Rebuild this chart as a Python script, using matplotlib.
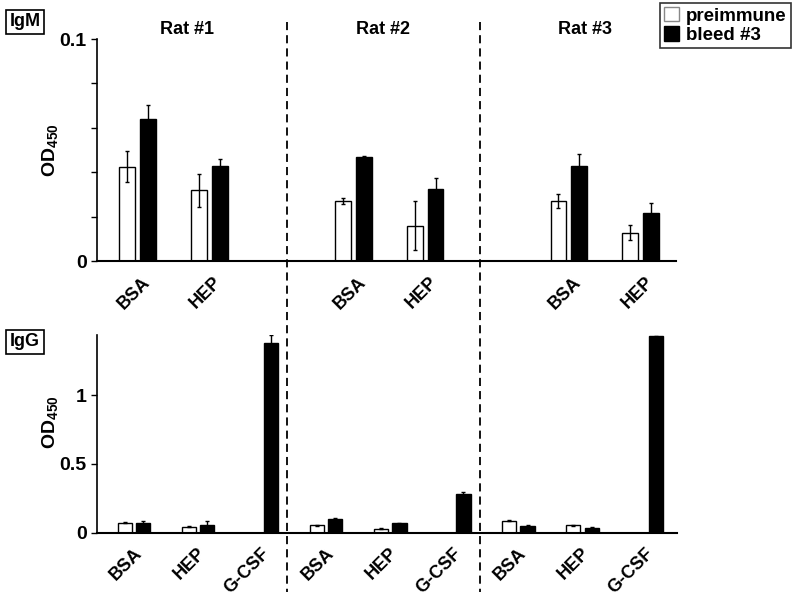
import numpy as np
import matplotlib
matplotlib.use("Agg")
import matplotlib.pyplot as plt
from matplotlib.lines import Line2D
from matplotlib.patches import Patch
from matplotlib.transforms import ScaledTranslation

plt.rcParams['font.family'] = ['Liberation Sans', 'DejaVu Sans']
plt.rcParams['font.weight'] = 'bold'
plt.rcParams['mathtext.fontset'] = 'custom'
plt.rcParams['mathtext.rm'] = 'Liberation Sans:bold'
plt.rcParams['mathtext.bf'] = 'Liberation Sans:bold'
plt.rcParams['mathtext.default'] = 'rm'

rats = ['Rat #1', 'Rat #2', 'Rat #3']
antigens = ['BSA', 'HEP', 'G-CSF']

# IgM (no G-CSF measured), order: rat1 BSA, HEP, rat2 BSA, HEP, rat3 BSA, HEP
igm_pre = [0.0425, 0.0318, 0.0269, 0.0159, 0.0270, 0.0128]
igm_pre_err = [0.0070, 0.0075, 0.0014, 0.0110, 0.0030, 0.0035]
igm_bleed = [0.0638, 0.0430, 0.0468, 0.0326, 0.0430, 0.0215]
igm_bleed_err = [0.0063, 0.0029, 0.0005, 0.0050, 0.0053, 0.0045]

# IgG, order: rat1 BSA, HEP, G-CSF, rat2 ..., rat3 ...
igg_pre = [0.073, 0.044, 0.0, 0.053, 0.029, 0.0, 0.087, 0.053, 0.0]
igg_pre_err = [0.005, 0.006, 0.0, 0.003, 0.005, 0.0, 0.004, 0.004, 0.0]
igg_bleed = [0.070, 0.058, 1.380, 0.100, 0.068, 0.279, 0.049, 0.037, 1.428]
igg_bleed_err = [0.012, 0.028, 0.056, 0.006, 0.005, 0.014, 0.004, 0.006, 0.004]

W = 0.22
OFF = 0.145

fig = plt.figure(figsize=(7.94, 5.98), dpi=100)
ax1 = fig.add_axes([0.1222, 0.5635, 0.7292, 0.3712])
ax2 = fig.add_axes([0.1222, 0.1092, 0.7305, 0.3306])

def style(ax):
    for s in ['top', 'right']:
        ax.spines[s].set_visible(False)
    ax.spines['left'].set_linewidth(1.2)
    ax.spines['bottom'].set_linewidth(1.5)
    ax.tick_params(axis='x', length=0)
    ax.tick_params(axis='y', direction='out', length=4, width=1, labelsize=14)

ekw = dict(ecolor='black', elinewidth=1, capsize=1.5, capthick=1)

# top panel: slots 0,1 / 3,4 / 6,7
x1 = np.array([0, 1, 3, 4, 6, 7])
ax1.bar(x1 - OFF, igm_pre, W, yerr=igm_pre_err, color='white', edgecolor='black',
        linewidth=1, error_kw=ekw)
ax1.bar(x1 + OFF, igm_bleed, W, yerr=igm_bleed_err, color='black', edgecolor='black',
        linewidth=1, error_kw=ekw)
ax1.set_xlim(-0.563, 7.49)
ax1.set_ylim(0, 0.1)
ax1.set_yticks([0, 0.1])
ax1.set_yticklabels(['0', '0.1'])
ax1.set_yticks(np.arange(0.02, 0.1, 0.02), minor=True)
ax1.tick_params(axis='y', which='minor', direction='out', length=4, width=1)
ax1.set_xticks(x1)
ax1.set_xticklabels(['BSA', 'HEP'] * 3)
style(ax1)

x2 = np.arange(9)
ax2.bar(x2 - OFF, igg_pre, W, yerr=igg_pre_err, color='white', edgecolor='black',
        linewidth=1, error_kw=ekw)
ax2.bar(x2 + OFF, igg_bleed, W, yerr=igg_bleed_err, color='black', edgecolor='black',
        linewidth=1, error_kw=ekw)
ax2.set_xlim(-0.578, 8.48)
ax2.set_ylim(0, 1.436)
ax2.set_yticks([0, 0.5, 1])
ax2.set_yticklabels(['0', '0.5', '1'])
ax2.set_xticks(x2)
ax2.set_xticklabels(antigens * 3)
style(ax2)

for ax, dx, dy, ly in ((ax1, 0.10, -0.14, 0.5), (ax2, 0.05, -0.13, 0.56)):
    for lab in ax.get_xticklabels():
        lab.set_rotation(45)
        lab.set_ha('right')
        lab.set_va('center')
        lab.set_rotation_mode('anchor')
        lab.set_fontsize(13)
        lab.set_transform(lab.get_transform() + ScaledTranslation(dx, dy, fig.dpi_scale_trans))
    ax.set_ylabel('OD$_{450}$', fontsize=14, fontweight='bold')
    ax.yaxis.set_label_coords(-0.064, ly)

# rat titles
for name, xc in zip(rats, [187, 383, 585]):
    fig.text(xc / 794, 1 - 30 / 598, name, ha='center', va='center', fontsize=13)

# dashed separators across both panels
for xp in [287, 480]:
    fig.add_artist(Line2D([xp / 794, xp / 794], [1 - 22 / 598, 1 - 592 / 598],
                          color='black', lw=1.3, ls=(0, (4.5, 2.8))))

# panel tags
box = dict(boxstyle='square,pad=0.2', fc='white', ec='black', lw=1.2)
fig.text(25 / 794, 1 - 22 / 598, 'IgM', ha='center', va='center', fontsize=13, bbox=box)
fig.text(25 / 794, 1 - 342 / 598, 'IgG', ha='center', va='center', fontsize=13, bbox=box)

handles = [Patch(fc='white', ec='#888888', lw=1), Patch(fc='black', ec='black')]
leg = fig.legend(handles, ['preimmune', 'bleed #3'], loc='upper right',
                 bbox_to_anchor=(0.998, 0.998), fontsize=13.5, frameon=True,
                 fancybox=False, edgecolor='black', handlelength=0.8,
                 handleheight=0.8, handletextpad=0.4, borderpad=0.2,
                 labelspacing=0.1, borderaxespad=0.1)
leg.get_frame().set_linewidth(1.2)

fig.savefig('out.png', dpi=100)
